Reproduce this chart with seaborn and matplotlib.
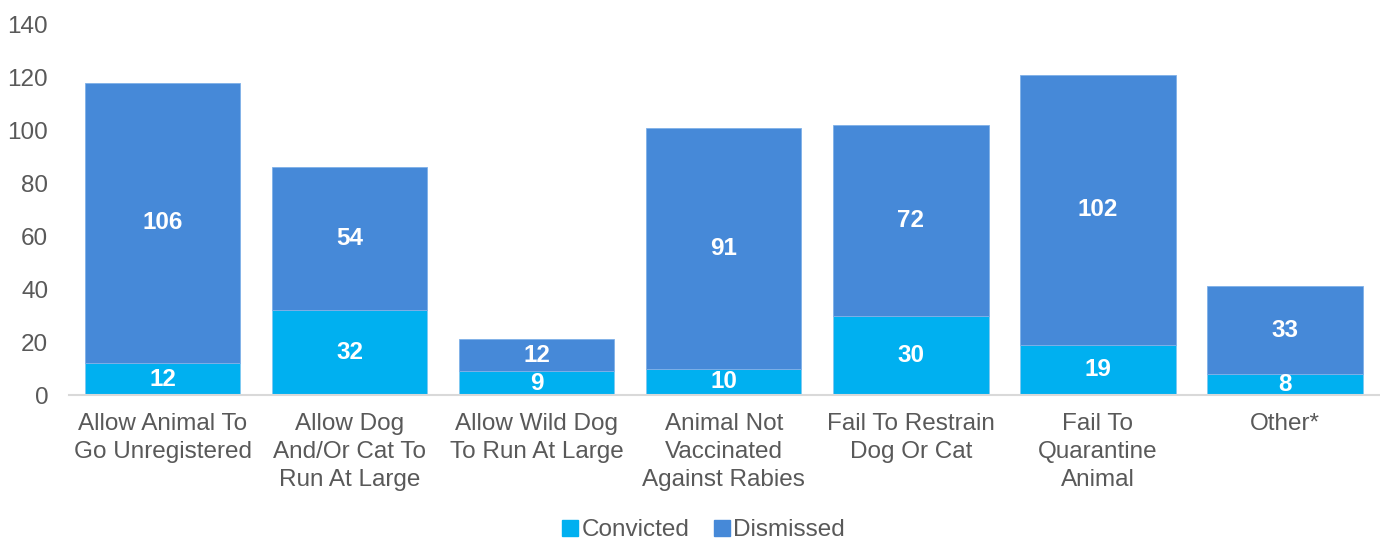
import matplotlib
matplotlib.use("Agg")
import matplotlib.pyplot as plt
import seaborn as sns
import pandas as pd
from matplotlib.patches import Patch

categories = ["Allow Animal To\nGo Unregistered", "Allow Dog\nAnd/Or Cat To\nRun At Large",
              "Allow Wild Dog\nTo Run At Large", "Animal Not\nVaccinated\nAgainst Rabies",
              "Fail To Restrain\nDog Or Cat", "Fail To\nQuarantine\nAnimal", "Other*"]
convicted = [12, 32, 9, 10, 30, 19, 8]
dismissed = [106, 54, 12, 91, 72, 102, 33]
yticks = [0, 20, 40, 60, 80, 100, 120, 140]

sns.set_theme(style="white")
plt.rcParams['font.family'] = ['Liberation Sans', 'DejaVu Sans']

c_conv = "#00B0F0"
c_dis = "#4689D8"
tcol = "#595959"
fs = 17.5

fig = plt.figure(figsize=(13.8, 5.39), dpi=100)
ax = fig.add_axes([0.05, 0.267, 0.949, 0.688])

df = pd.DataFrame({"cat": categories, "conv": convicted, "dis": dismissed})
sns.barplot(data=df, x="cat", y="conv", color=c_conv, width=0.83, ax=ax,
            edgecolor="#7FC8F0", linewidth=0.6, saturation=1)
sns.barplot(data=df, x="cat", y="dis", color=c_dis, width=0.83, ax=ax,
            bottom=df["conv"].values, edgecolor="#7FB0E8", linewidth=0.6, saturation=1)

for cont in ax.containers:
    ax.bar_label(cont, labels=[f"{int(v)}" for v in cont.datavalues], label_type="center",
                 color="white", fontsize=fs, fontweight="bold")

ax.set_ylim(0, 140)
ax.set_xlim(-0.5, len(categories) - 0.5)
ax.set_yticks(yticks)
ax.set_yticklabels([str(t) for t in yticks], fontsize=fs, color=tcol)
ax.tick_params(axis="x", labelsize=fs, labelcolor=tcol, length=0, pad=13)
for lab in ax.get_xticklabels():
    lab.set_linespacing(1.35)
ax.tick_params(axis="y", length=0, pad=15)
ax.set_xlabel("")
ax.set_ylabel("")
for s in ["top", "right", "left"]:
    ax.spines[s].set_visible(False)
ax.spines["bottom"].set_color("#D9D9D9")
ax.spines["bottom"].set_linewidth(1.5)

handles = [Patch(color=c_conv, label="Convicted"), Patch(color=c_dis, label="Dismissed")]
fig.legend(handles=handles, loc="center", bbox_to_anchor=(0.51, 0.016), ncol=2, frameon=False,
           fontsize=fs, labelcolor=tcol, handlelength=0.65, handleheight=0.65,
           handletextpad=0.15, columnspacing=1.0)

fig.savefig("out.png", dpi=100)
